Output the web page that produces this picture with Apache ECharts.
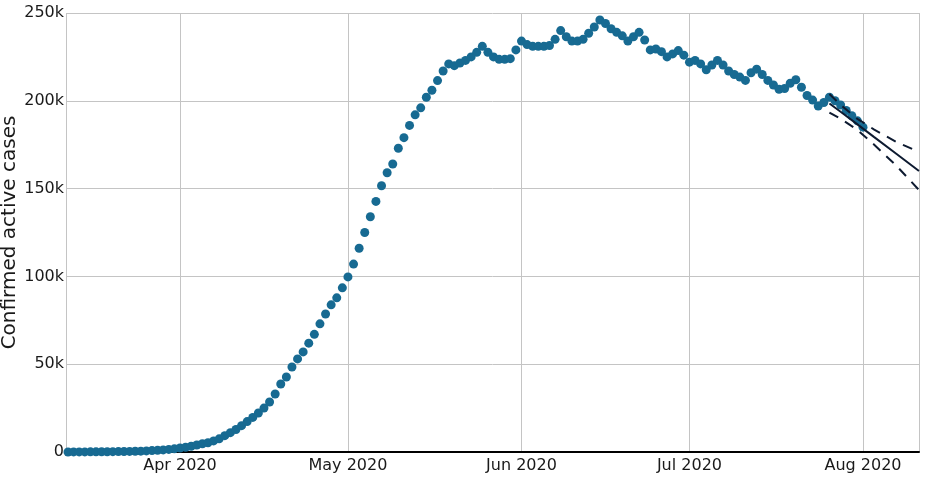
<!DOCTYPE html>
<html>
<head>
<meta charset="utf-8">
<script src="https://cdn.jsdelivr.net/npm/echarts@6/dist/echarts.min.js"></script>
<style>
  html, body { margin: 0; padding: 0; background: #fff; }
  #activeCases { width: 932px; height: 478px; }
</style>
</head>
<body>
<div id="activeCases"></div>
<script>
  // first observed day, then one value per day
  var startDay = [2020, 2, 12];
  var activeCases = [
    30, 40, 50, 60, 80, 100, 130, 170, 200, 250,
    290, 350, 420, 480, 630, 810, 1000, 1210, 1470, 1800,
    2300, 2700, 3300, 4000, 4700, 5300, 6300, 7500, 9300, 11000,
    12800, 15000, 17300, 19700, 22200, 25000, 28500, 33000, 38700, 42700,
    48400, 53000, 57000, 62000, 67000, 73000, 78600, 83800, 87800, 93500,
    99700, 107000, 116000, 125000, 134000, 142700, 151600, 159000, 164000, 173000,
    179000, 186000, 192000, 196000, 202000, 206000, 211500, 217000, 221000, 220000,
    221500, 223000, 225000, 227600, 231000, 227600, 225000, 223600, 223600, 224000,
    229000, 234000, 232000, 231000, 231000, 231000, 231500, 235000, 240000, 236500,
    234000, 234000, 235000, 238500, 242000, 246000, 244000, 241000, 239000, 237000,
    234000, 236500, 239000, 234600, 229000, 229500, 228000, 225000, 226700, 228600,
    226000, 222000, 223000, 221000, 217700, 220400, 223000, 220400, 217000, 215000,
    213500, 211600, 216000, 218000, 215000, 211600, 209000, 206600, 207000, 210000,
    212000, 207700, 203000, 200400, 197000, 199000, 202000, 200000, 197600, 194500,
    191500, 188600, 185000
  ];

  // forecast with band
  var forecastDates = ['2020-07-26', '2020-07-28', '2020-07-31', '2020-08-03', '2020-08-07', '2020-08-11'];
  var forecastMid = [198500, 193800, 186600, 179300, 169700, 160000];
  var forecastUpper = [203900, 197700, 189700, 183600, 176500, 170900];
  var forecastLower = [193300, 189800, 183400, 175000, 162900, 149200];

  var yTicks = [0, 50000, 100000, 150000, 200000, 250000];
  var monthNames = ['Jan', 'Feb', 'Mar', 'Apr', 'May', 'Jun', 'Jul', 'Aug', 'Sep', 'Oct', 'Nov', 'Dec'];

  var DAY = 86400000;
  var t0 = new Date(startDay[0], startDay[1], startDay[2]).getTime();

  var dots = activeCases.map(function (v, i) {
    return [t0 + i * DAY, v];
  });
  function toLine(vals) {
    return forecastDates.map(function (d, i) {
      var p = d.split('-');
      return [new Date(+p[0], +p[1] - 1, +p[2]).getTime(), vals[i]];
    });
  }
  var lastDay = forecastDates[forecastDates.length - 1].split('-');
  var tEnd = new Date(+lastDay[0], +lastDay[1] - 1, +lastDay[2]).getTime();

  var chart = echarts.init(document.getElementById('activeCases'));
  var textColor = '#1a1a1a';
  var bandColor = '#0d1a30';

  chart.setOption({
    animation: false,
    grid: { left: 66, right: 13, top: 13, bottom: 26, outerBoundsMode: 'none', containLabel: false },
    xAxis: {
      type: 'time',
      min: t0 - 0.36 * DAY,
      max: tEnd,
      minInterval: 28 * DAY,
      splitNumber: 5,
      axisLine: { show: true, onZero: false, lineStyle: { color: '#000', width: 2 } },
      axisTick: { show: false },
      splitLine: { show: true, lineStyle: { color: '#c4c4c4', width: 1 } },
      axisLabel: {
        color: textColor,
        fontFamily: 'DejaVu Sans',
        fontSize: 16,
        margin: 6,
        showMinLabel: false,
        showMaxLabel: false,
        formatter: function (val) {
          var d = new Date(val);
          return monthNames[d.getMonth()] + ' ' + d.getFullYear();
        }
      }
    },
    yAxis: {
      type: 'value',
      min: yTicks[0],
      max: yTicks[yTicks.length - 1],
      interval: yTicks[1] - yTicks[0],
      name: 'Confirmed active cases',
      nameLocation: 'middle',
      nameGap: 46,
      nameMoveOverlap: false,
      nameTextStyle: { color: textColor, fontFamily: 'DejaVu Sans', fontSize: 20 },
      axisLine: { show: false },
      axisTick: { show: false },
      splitLine: { lineStyle: { color: '#c4c4c4', width: 1 } },
      axisLabel: {
        color: textColor,
        fontFamily: 'DejaVu Sans',
        fontSize: 16,
        margin: 2,
        formatter: function (v) { return v === 0 ? '0' : (v / 1000) + 'k'; }
      }
    },
    series: [
      {
        name: 'Active',
        type: 'scatter',
        data: dots,
        symbolSize: 9,
        itemStyle: { color: '#176a92', opacity: 1 },
        z: 2
      },
      {
        name: 'Forecast',
        type: 'line',
        data: toLine(forecastMid),
        showSymbol: false,
        lineStyle: { color: bandColor, width: 2 },
        z: 3
      },
      {
        name: 'Upper',
        type: 'line',
        data: toLine(forecastUpper),
        showSymbol: false,
        lineStyle: { color: bandColor, width: 2, type: [10, 8] },
        z: 3
      },
      {
        name: 'Lower',
        type: 'line',
        data: toLine(forecastLower),
        showSymbol: false,
        lineStyle: { color: bandColor, width: 2, type: [10, 8] },
        z: 3
      }
    ]
  });
</script>
</body>
</html>
